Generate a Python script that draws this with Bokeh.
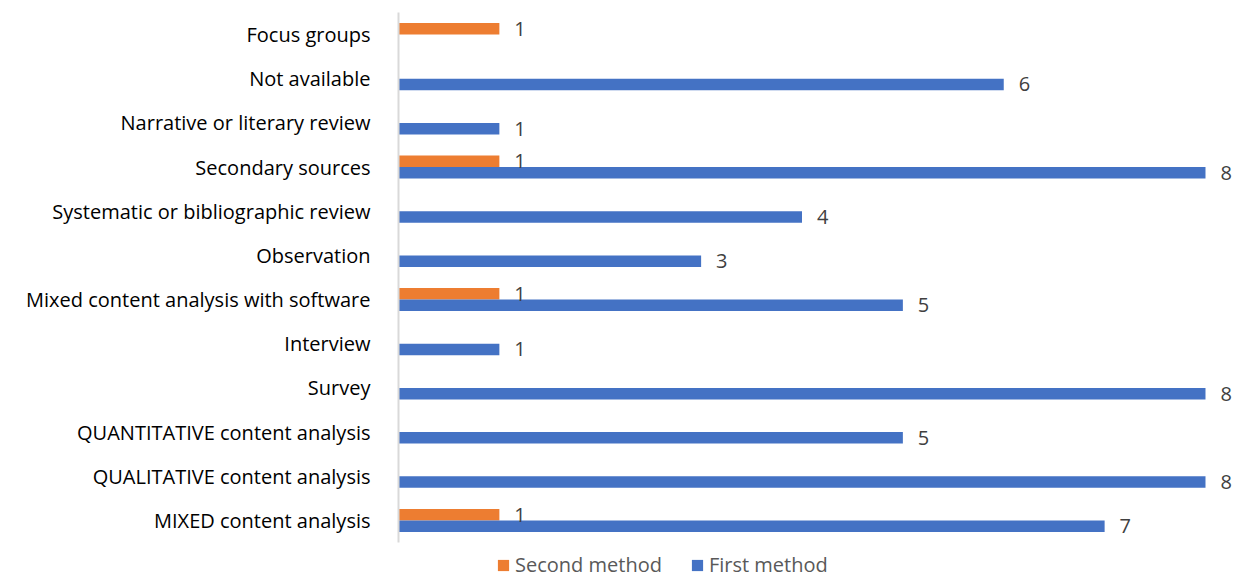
from bokeh.plotting import figure
from bokeh.models import ColumnDataSource, FactorRange, Legend, LegendItem
from bokeh.layouts import column
from bokeh.transform import dodge
from bokeh.embed import file_html
from bokeh.resources import INLINE

categories = ["MIXED content analysis", "QUALITATIVE content analysis",
              "QUANTITATIVE content analysis", "Survey", "Interview",
              "Mixed content analysis with software", "Observation",
              "Systematic or bibliographic review", "Secondary sources",
              "Narrative or literary review", "Not available", "Focus groups"]
first_method = [7, 8, 5, 8, 1, 5, 3, 4, 8, 1, 6, 0]
second_method = [1, 0, 0, 0, 0, 1, 0, 0, 1, 0, 0, 1]
series_names = ["Second method", "First method"]

FONT = "Open Sans"
BLUE = "#4472C4"
ORANGE = "#ED7D31"

p = figure(width=1240, height=552, output_backend="svg", toolbar_location=None,
           y_range=FactorRange(*categories), x_range=(0, 8.347),
           min_border_left=398, min_border_right=0, min_border_top=12,
           min_border_bottom=10)

src1 = ColumnDataSource(dict(cat=categories, v=first_method))
src2 = ColumnDataSource(dict(cat=categories, v=second_method))

p.hbar(y=dodge("cat", 0.13, range=p.y_range), right="v", left=0, height=0.26,
       source=src2, fill_color=ORANGE, line_color=None)
p.hbar(y=dodge("cat", -0.13, range=p.y_range), right="v", left=0, height=0.26,
       source=src1, fill_color=BLUE, line_color=None)

lab1 = ColumnDataSource(dict(cat=[c for c, v in zip(categories, first_method) if v > 0],
                             v=[v for v in first_method if v > 0],
                             t=[str(v) for v in first_method if v > 0]))
lab2 = ColumnDataSource(dict(cat=[c for c, v in zip(categories, second_method) if v > 0],
                             v=[v for v in second_method if v > 0],
                             t=[str(v) for v in second_method if v > 0]))
for s, off in ((lab1, -0.13), (lab2, 0.13)):
    p.text(x="v", y=dodge("cat", off, range=p.y_range), text="t", source=s,
           x_offset=15, text_baseline="middle", text_align="left",
           text_font_size="20px", text_color="#404040", text_font={"value": FONT})

p.xaxis.visible = False
p.xgrid.visible = False
p.ygrid.visible = False
p.outline_line_color = None
p.yaxis.major_tick_line_color = None
p.yaxis.minor_tick_line_color = None
p.yaxis.axis_line_color = "#d9d9d9"
p.yaxis.axis_line_width = 2
p.yaxis.major_label_text_font = FONT
p.yaxis.major_label_text_font_size = "20px"
p.yaxis.major_label_text_color = "#000000"
p.yaxis.major_label_standoff = 22

# legend strip below the chart (dummy glyphs lie outside its visible range)
lg = figure(width=1240, height=26, output_backend="svg", toolbar_location=None,
            x_range=(0, 1), y_range=(0, 1), min_border=0)
lg.xaxis.visible = False
lg.yaxis.visible = False
lg.xgrid.visible = False
lg.ygrid.visible = False
lg.outline_line_color = None
d2 = lg.quad(left=[5], right=[6], top=[6], bottom=[5], fill_color=ORANGE, line_color=None)
d1 = lg.quad(left=[5], right=[6], top=[6], bottom=[5], fill_color=BLUE, line_color=None)
legend = Legend(items=[LegendItem(label=series_names[0], renderers=[d2]),
                       LegendItem(label=series_names[1], renderers=[d1])],
                orientation="horizontal", location=(98, 0),
                label_text_font=FONT, label_text_font_size="20px",
                label_text_color="#595959", glyph_width=14, glyph_height=14,
                spacing=28, padding=0, margin=0, border_line_color=None,
                background_fill_alpha=0, label_standoff=5)
lg.add_layout(legend, "center")

layout = column(p, lg, spacing=0)
open("out.html", "w").write(file_html(layout, INLINE))
